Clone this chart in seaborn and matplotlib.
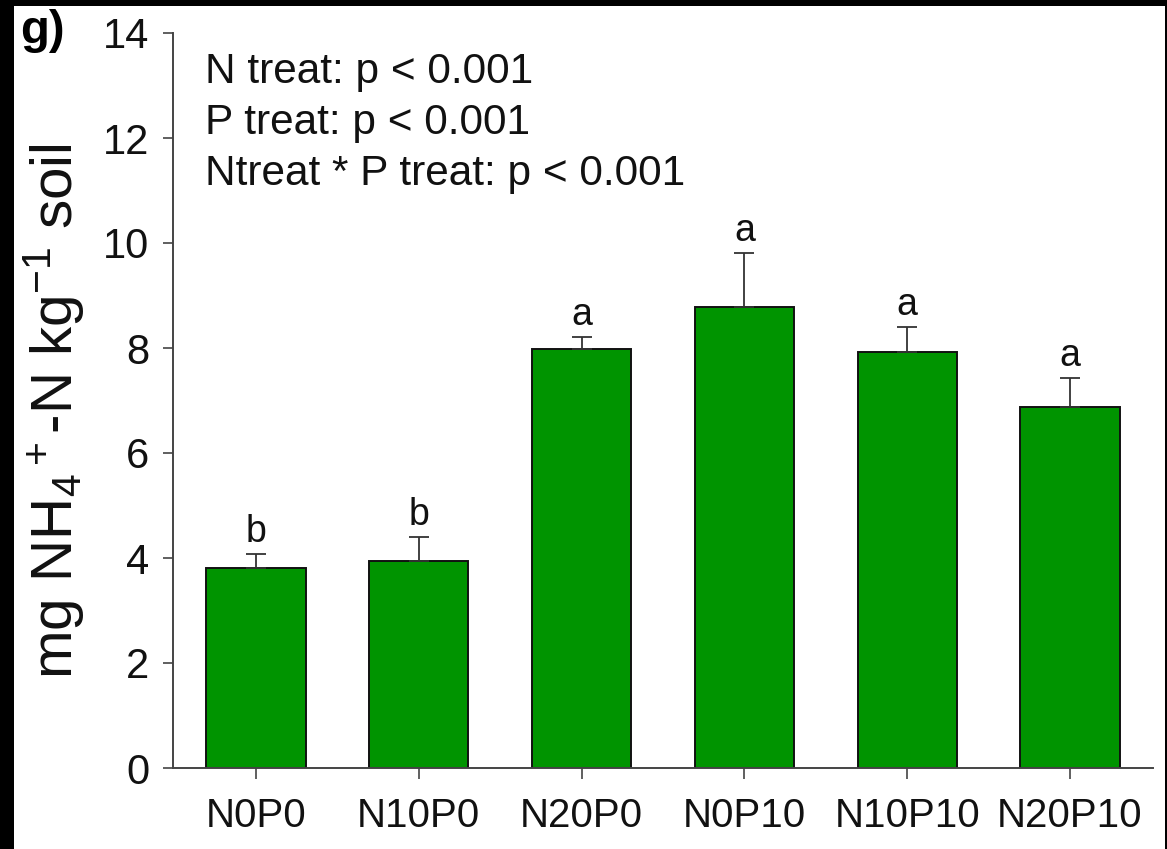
import matplotlib
matplotlib.use("Agg")
import matplotlib.pyplot as plt
import seaborn as sns
import numpy as np
from matplotlib.patches import Rectangle

categories = ["N0P0", "N10P0", "N20P0", "N0P10", "N10P10", "N20P10"]
values = [3.81, 3.94, 7.98, 8.78, 7.93, 6.88]
errors = [0.27, 0.46, 0.23, 1.03, 0.47, 0.55]
letters = ["b", "b", "a", "a", "a", "a"]
stats_lines = ["N treat: p < 0.001", "P treat: p < 0.001", "Ntreat * P treat: p < 0.001"]
yticks = [0, 2, 4, 6, 8, 10, 12, 14]

sns.set_style("ticks")
plt.rcParams["font.family"] = ["Liberation Sans", "DejaVu Sans"]
plt.rcParams["mathtext.fontset"] = "custom"
plt.rcParams["mathtext.rm"] = "Liberation Sans"
plt.rcParams["mathtext.it"] = "Liberation Sans:italic"

TXT = "#111111"
W, H = 1167, 849
fig = plt.figure(figsize=(W / 100, H / 100), dpi=100)
fig.patch.set_facecolor("black")
bg = Rectangle((14 / W, 0), (1165 - 14) / W, (H - 6) / H,
               transform=fig.transFigure, facecolor="white",
               edgecolor="none", zorder=-10)
fig.add_artist(bg)

ax = fig.add_axes([173 / W, 1 - 768 / H, (1153 - 173) / W, (768 - 33) / H])
ax.set_zorder(5)
ax.patch.set_alpha(0)

sns.barplot(x=categories, y=values, color="#009400", saturation=1, width=0.61,
            edgecolor="#111111", linewidth=1.4, ax=ax, zorder=2)

pos = np.arange(len(categories))
ax.errorbar(pos, values, yerr=[np.zeros(len(values)), errors], fmt="none",
            ecolor="#333333", elinewidth=1.3, capsize=7.2, capthick=1.3, zorder=3)

for x, v, e, l in zip(pos, values, errors, letters):
    ax.annotate(l, (x, v + e), xytext=(0, 3), textcoords="offset points",
                ha="center", va="bottom", fontsize=27, color=TXT)

for i, s in enumerate(stats_lines):
    ax.annotate(s, xy=(0, 1), xycoords="axes fraction",
                xytext=(32, -19 - 51 * i), textcoords="offset pixels",
                ha="left", va="top", fontsize=30.5, color=TXT)

ax.set_xlim(-0.51, 5.51)
ax.set_ylim(0, 14)
ax.set_yticks(yticks)
ax.set_yticklabels([str(t) for t in yticks])
ax.set_xlabel("")
ax.set_ylabel(r"mg NH$_4$$^+$-N kg$^{-1}$ soil", fontsize=42, color=TXT)
ax.yaxis.set_label_coords(-0.089, 0.485)

for sp in ["top", "right"]:
    ax.spines[sp].set_visible(False)
for sp in ["left", "bottom"]:
    ax.spines[sp].set_color("#444444")
    ax.spines[sp].set_linewidth(1.4)

ax.tick_params(axis="y", direction="out", length=7, width=1.2, color="#444444",
               labelsize=30, pad=10, labelcolor=TXT)
ax.tick_params(axis="x", direction="out", length=8, width=1.2, color="#444444",
               labelsize=29, pad=13, labelcolor=TXT)

fig.text(20 / W, 1 - 9 / H, "g)", fontsize=34, fontweight="bold",
         ha="left", va="top", color="black", zorder=6)

fig.savefig("out.png", dpi=100, facecolor=fig.get_facecolor())
